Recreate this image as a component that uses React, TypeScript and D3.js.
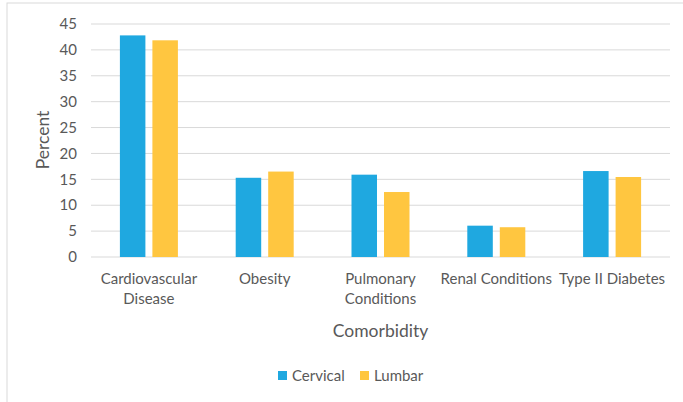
import React from "react";
import * as d3 from "d3";

const categories = [
  ["Cardiovascular", "Disease"],
  ["Obesity"],
  ["Pulmonary", "Conditions"],
  ["Renal Conditions"],
  ["Type II Diabetes"],
];
const seriesNames = ["Cervical", "Lumbar"];
const cervical = [42.8, 15.3, 15.9, 6.05, 16.6];
const lumbar = [41.85, 16.5, 12.55, 5.75, 15.45];
const yTicks = [0, 5, 10, 15, 20, 25, 30, 35, 40, 45];
const colors = ["#1fa8e0", "#ffc640"];

const W = 683;
const H = 402;
const left = 91;
const right = 670;
const top = 24;
const bottom = 257;
const font = "Lato, 'Open Sans', sans-serif";
const textColor = "#595959";

export default function App() {
  const x = d3
    .scaleBand<number>()
    .domain(categories.map((_, i) => i))
    .range([left, right]);
  const y = d3.scaleLinear().domain([0, 45]).range([bottom, top]);
  const barW = 25.5;
  const gap = 7;
  const series = [cervical, lumbar];

  return (
    <svg
      width={W}
      height={H}
      style={{ position: "absolute", left: 0, top: 0 }}
      fontFamily={font}
    >
      <rect x={0} y={0} width={W} height={H} fill="#fff" />
      <rect x={7} y={3} width={W + 10} height={H + 10} fill="none" stroke="#d9d9d9" strokeWidth={1} />
      {yTicks.map((t) => (
        <g key={t}>
          <line x1={left} x2={right} y1={y(t)} y2={y(t)} stroke="#d9d9d9" strokeWidth={1} />
          <text x={77} y={y(t)} dy="0.35em" textAnchor="end" fontSize={15} fill={textColor}>
            {t}
          </text>
        </g>
      ))}
      {categories.map((c, i) => {
        const cx = (x(i) as number) + x.bandwidth() / 2;
        return (
          <g key={i}>
            {series.map((s, j) => {
              const bx = cx - gap / 2 - barW + j * (barW + gap);
              return (
                <rect
                  key={j}
                  x={bx}
                  y={y(s[i])}
                  width={barW}
                  height={y(0) - y(s[i])}
                  fill={colors[j]}
                />
              );
            })}
            {c.map((line, k) => (
              <text
                key={k}
                x={cx}
                y={284 + k * 20}
                textAnchor="middle"
                fontSize={15}
                fill={textColor}
              >
                {line}
              </text>
            ))}
          </g>
        );
      })}
      <text x={(left + right) / 2} y={337} textAnchor="middle" fontSize={17.5} fill={textColor}>
        Comorbidity
      </text>
      <text
        transform={`translate(49,140) rotate(-90)`}
        textAnchor="middle"
        fontSize={17.5}
        fill={textColor}
      >
        Percent
      </text>
      {seriesNames.map((n, j) => {
        const lx = j === 0 ? 278 : 360;
        return (
          <g key={n}>
            <rect x={lx} y={371} width={9} height={9} fill={colors[j]} />
            <text x={lx + 14} y={381} fontSize={15} fill={textColor}>
              {n}
            </text>
          </g>
        );
      })}
    </svg>
  );
}
